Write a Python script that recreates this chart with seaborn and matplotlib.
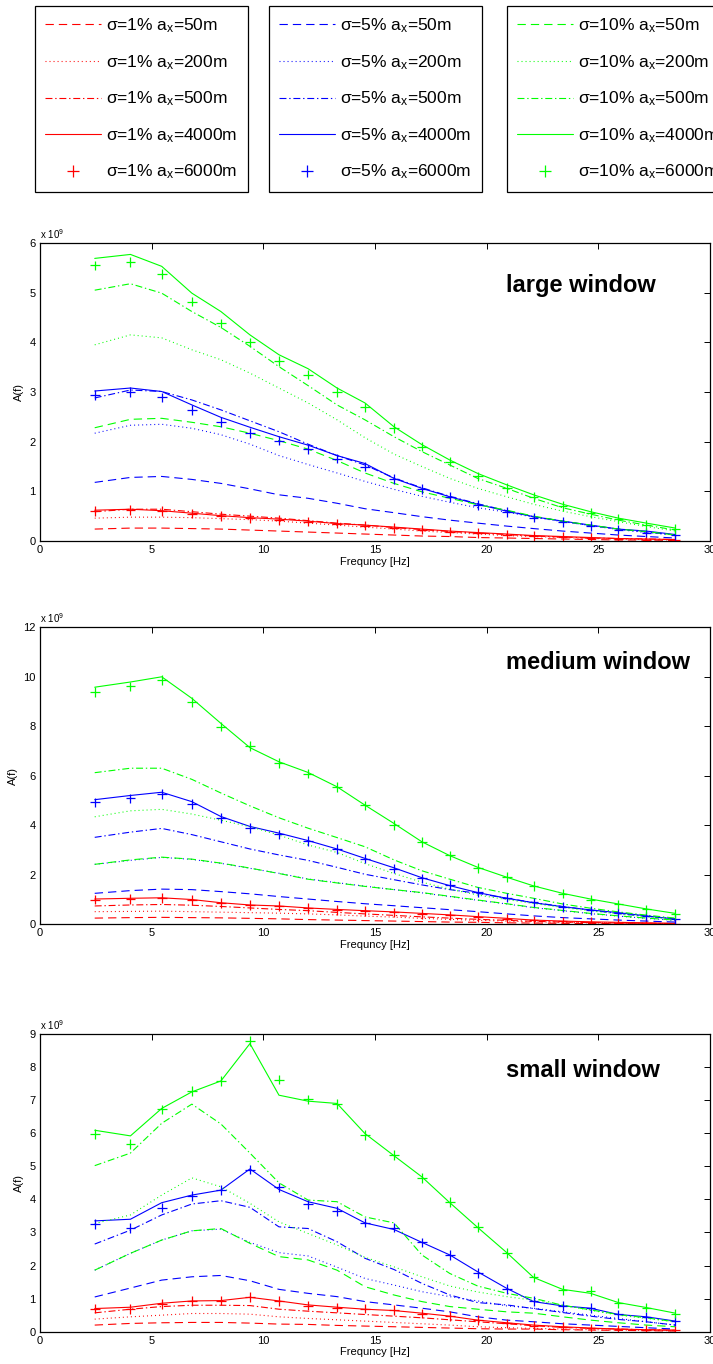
import matplotlib
matplotlib.use("Agg")
import matplotlib.pyplot as plt
import seaborn as sns
import pandas as pd
from matplotlib.lines import Line2D

# ---------------- data (amplitudes in units of 1e9) ----------------
freq = [2.45, 4.05, 5.45, 6.8, 8.1, 9.4, 10.7, 12.0, 13.3, 14.55, 15.85,
        17.1, 18.35, 19.6, 20.9, 22.1, 23.4, 24.65, 25.9, 27.15, 28.45]

sigmas = ["1%", "5%", "10%"]
corr_lengths = [50, 200, 500, 4000, 6000]
windows = ["large window", "medium window", "small window"]

# large window
large_s1_a50 = [0.24, 0.26, 0.26, 0.25, 0.24, 0.22, 0.20, 0.18, 0.16, 0.14, 0.12, 0.10, 0.09, 0.07, 0.06, 0.05, 0.04, 0.03, 0.02, 0.02, 0.01]
large_s1_a200 = [0.46, 0.48, 0.48, 0.47, 0.45, 0.43, 0.40, 0.36, 0.32, 0.28, 0.24, 0.20, 0.17, 0.14, 0.11, 0.09, 0.07, 0.05, 0.04, 0.03, 0.02]
large_s1_a500 = [0.59, 0.64, 0.64, 0.59, 0.54, 0.50, 0.46, 0.41, 0.36, 0.32, 0.27, 0.23, 0.19, 0.16, 0.13, 0.10, 0.08, 0.06, 0.05, 0.04, 0.03]
large_s1_a4000 = [0.62, 0.64, 0.61, 0.56, 0.51, 0.47, 0.44, 0.40, 0.35, 0.32, 0.28, 0.24, 0.20, 0.17, 0.14, 0.11, 0.09, 0.07, 0.05, 0.04, 0.03]
large_s1_a6000 = [0.61, 0.63, 0.61, 0.55, 0.50, 0.46, 0.42, 0.39, 0.35, 0.31, 0.26, 0.23, 0.19, 0.16, 0.13, 0.10, 0.08, 0.06, 0.05, 0.03, 0.02]
large_s5_a50 = [1.18, 1.28, 1.30, 1.24, 1.16, 1.05, 0.93, 0.86, 0.76, 0.65, 0.57, 0.49, 0.42, 0.36, 0.30, 0.25, 0.20, 0.16, 0.12, 0.09, 0.06]
large_s5_a200 = [2.17, 2.33, 2.35, 2.27, 2.14, 1.95, 1.72, 1.54, 1.37, 1.20, 1.04, 0.90, 0.78, 0.67, 0.58, 0.48, 0.39, 0.31, 0.23, 0.17, 0.12]
large_s5_a500 = [2.88, 3.04, 3.01, 2.84, 2.64, 2.42, 2.20, 1.95, 1.72, 1.53, 1.27, 1.07, 0.90, 0.75, 0.61, 0.49, 0.40, 0.31, 0.24, 0.18, 0.12]
large_s5_a4000 = [3.02, 3.08, 3.01, 2.74, 2.49, 2.29, 2.10, 1.93, 1.72, 1.56, 1.26, 1.06, 0.89, 0.74, 0.60, 0.49, 0.40, 0.32, 0.24, 0.20, 0.13]
large_s5_a6000 = [2.94, 3.00, 2.89, 2.64, 2.39, 2.18, 2.02, 1.85, 1.66, 1.50, 1.25, 1.05, 0.88, 0.73, 0.59, 0.47, 0.38, 0.30, 0.23, 0.17, 0.12]
large_s10_a50 = [2.28, 2.45, 2.47, 2.39, 2.30, 2.17, 2.02, 1.85, 1.62, 1.37, 1.16, 0.99, 0.86, 0.73, 0.62, 0.50, 0.40, 0.32, 0.24, 0.19, 0.12]
large_s10_a200 = [3.95, 4.15, 4.09, 3.85, 3.65, 3.38, 3.08, 2.78, 2.44, 2.08, 1.75, 1.50, 1.26, 1.06, 0.89, 0.74, 0.60, 0.49, 0.39, 0.29, 0.20]
large_s10_a500 = [5.05, 5.18, 4.99, 4.62, 4.30, 3.92, 3.51, 3.13, 2.74, 2.44, 2.10, 1.80, 1.53, 1.26, 1.06, 0.86, 0.67, 0.54, 0.42, 0.32, 0.22]
large_s10_a4000 = [5.69, 5.77, 5.53, 4.99, 4.62, 4.15, 3.75, 3.47, 3.08, 2.78, 2.30, 1.94, 1.63, 1.36, 1.13, 0.93, 0.74, 0.59, 0.46, 0.36, 0.26]
large_s10_a6000 = [5.55, 5.62, 5.37, 4.82, 4.38, 4.00, 3.62, 3.35, 3.00, 2.69, 2.27, 1.90, 1.60, 1.30, 1.07, 0.89, 0.71, 0.56, 0.44, 0.32, 0.24]

# medium window
medium_s1_a50 = [0.25, 0.27, 0.28, 0.27, 0.26, 0.24, 0.22, 0.19, 0.17, 0.15, 0.13, 0.11, 0.09, 0.08, 0.06, 0.05, 0.04, 0.03, 0.03, 0.02, 0.02]
medium_s1_a200 = [0.51, 0.52, 0.53, 0.51, 0.49, 0.47, 0.45, 0.42, 0.38, 0.33, 0.29, 0.24, 0.20, 0.16, 0.13, 0.10, 0.08, 0.06, 0.05, 0.04, 0.03]
medium_s1_a500 = [0.74, 0.78, 0.80, 0.77, 0.72, 0.66, 0.60, 0.55, 0.48, 0.42, 0.36, 0.30, 0.25, 0.20, 0.16, 0.12, 0.09, 0.07, 0.05, 0.04, 0.03]
medium_s1_a4000 = [1.02, 1.05, 1.07, 1.00, 0.87, 0.78, 0.74, 0.66, 0.60, 0.55, 0.50, 0.44, 0.38, 0.31, 0.24, 0.17, 0.13, 0.10, 0.08, 0.06, 0.04]
medium_s1_a6000 = [1.00, 1.03, 1.06, 0.99, 0.86, 0.78, 0.73, 0.65, 0.58, 0.53, 0.48, 0.42, 0.36, 0.29, 0.23, 0.16, 0.12, 0.09, 0.07, 0.05, 0.03]
medium_s5_a50 = [1.25, 1.36, 1.42, 1.40, 1.32, 1.23, 1.12, 1.02, 0.92, 0.83, 0.75, 0.67, 0.59, 0.51, 0.42, 0.34, 0.27, 0.22, 0.17, 0.13, 0.09]
medium_s5_a200 = [2.42, 2.58, 2.70, 2.62, 2.46, 2.26, 2.06, 1.83, 1.68, 1.54, 1.40, 1.27, 1.12, 0.97, 0.82, 0.67, 0.55, 0.43, 0.33, 0.24, 0.16]
medium_s5_a500 = [3.51, 3.72, 3.87, 3.62, 3.33, 3.04, 2.80, 2.58, 2.30, 2.02, 1.80, 1.59, 1.40, 1.25, 1.05, 0.88, 0.72, 0.57, 0.43, 0.32, 0.22]
medium_s5_a4000 = [5.03, 5.20, 5.33, 4.95, 4.35, 3.95, 3.68, 3.38, 3.04, 2.66, 2.28, 1.88, 1.56, 1.28, 1.05, 0.87, 0.71, 0.58, 0.47, 0.34, 0.21]
medium_s5_a6000 = [4.92, 5.08, 5.25, 4.85, 4.28, 3.88, 3.63, 3.35, 3.04, 2.65, 2.25, 1.85, 1.60, 1.30, 1.08, 0.88, 0.70, 0.56, 0.45, 0.32, 0.20]
medium_s10_a50 = [2.42, 2.60, 2.71, 2.63, 2.47, 2.27, 2.05, 1.82, 1.67, 1.53, 1.40, 1.28, 1.13, 0.98, 0.83, 0.68, 0.56, 0.44, 0.34, 0.25, 0.17]
medium_s10_a200 = [4.34, 4.58, 4.64, 4.45, 4.20, 3.94, 3.60, 3.20, 2.90, 2.45, 2.05, 1.70, 1.42, 1.18, 1.00, 0.84, 0.68, 0.54, 0.42, 0.30, 0.20]
medium_s10_a500 = [6.12, 6.30, 6.30, 5.85, 5.30, 4.78, 4.30, 3.88, 3.50, 3.13, 2.60, 2.16, 1.82, 1.49, 1.25, 1.05, 0.82, 0.65, 0.50, 0.37, 0.25]
medium_s10_a4000 = [9.57, 9.78, 9.99, 9.12, 8.11, 7.13, 6.56, 6.13, 5.55, 4.81, 4.07, 3.33, 2.77, 2.30, 1.90, 1.55, 1.25, 1.02, 0.82, 0.62, 0.44]
medium_s10_a6000 = [9.38, 9.60, 9.87, 8.98, 7.98, 7.20, 6.52, 6.08, 5.55, 4.80, 4.02, 3.32, 2.78, 2.28, 1.90, 1.55, 1.24, 1.00, 0.80, 0.60, 0.42]

# small window
small_s1_a50 = [0.20, 0.25, 0.27, 0.28, 0.28, 0.26, 0.23, 0.22, 0.19, 0.17, 0.15, 0.13, 0.11, 0.09, 0.08, 0.08, 0.06, 0.05, 0.04, 0.03, 0.02]
small_s1_a200 = [0.38, 0.45, 0.50, 0.55, 0.55, 0.53, 0.45, 0.40, 0.36, 0.32, 0.28, 0.24, 0.20, 0.15, 0.12, 0.10, 0.08, 0.06, 0.05, 0.04, 0.03]
small_s1_a500 = [0.57, 0.68, 0.76, 0.80, 0.80, 0.79, 0.68, 0.62, 0.57, 0.52, 0.47, 0.42, 0.36, 0.30, 0.24, 0.18, 0.13, 0.10, 0.08, 0.06, 0.04]
small_s1_a4000 = [0.70, 0.74, 0.86, 0.93, 0.94, 1.04, 0.93, 0.81, 0.74, 0.68, 0.64, 0.56, 0.47, 0.35, 0.27, 0.20, 0.15, 0.11, 0.08, 0.06, 0.05]
small_s1_a6000 = [0.70, 0.68, 0.84, 0.92, 0.94, 1.04, 0.93, 0.79, 0.73, 0.70, 0.65, 0.55, 0.47, 0.36, 0.25, 0.18, 0.14, 0.10, 0.07, 0.05, 0.04]
small_s5_a50 = [1.05, 1.32, 1.56, 1.66, 1.70, 1.54, 1.28, 1.16, 1.06, 0.91, 0.81, 0.71, 0.60, 0.45, 0.35, 0.30, 0.24, 0.20, 0.16, 0.12, 0.08]
small_s5_a200 = [1.86, 2.37, 2.77, 3.05, 3.10, 2.70, 2.39, 2.29, 1.95, 1.61, 1.41, 1.21, 1.06, 0.93, 0.78, 0.71, 0.60, 0.50, 0.40, 0.30, 0.20]
small_s5_a500 = [2.65, 3.07, 3.53, 3.86, 3.96, 3.76, 3.17, 3.12, 2.72, 2.22, 1.88, 1.46, 1.11, 0.88, 0.81, 0.70, 0.58, 0.47, 0.37, 0.30, 0.20]
small_s5_a4000 = [3.35, 3.40, 3.90, 4.13, 4.28, 4.92, 4.30, 3.93, 3.73, 3.29, 3.09, 2.70, 2.32, 1.81, 1.31, 0.91, 0.78, 0.71, 0.52, 0.45, 0.32]
small_s5_a6000 = [3.25, 3.14, 3.75, 4.10, 4.28, 4.90, 4.36, 3.85, 3.65, 3.30, 3.15, 2.70, 2.32, 1.78, 1.30, 0.92, 0.78, 0.72, 0.52, 0.45, 0.33]
small_s10_a50 = [1.86, 2.37, 2.77, 3.05, 3.12, 2.67, 2.27, 2.17, 1.86, 1.36, 1.11, 0.91, 0.76, 0.68, 0.60, 0.56, 0.45, 0.35, 0.27, 0.20, 0.15]
small_s10_a200 = [3.27, 3.53, 4.13, 4.65, 4.38, 3.88, 3.32, 2.97, 2.62, 2.25, 1.96, 1.66, 1.38, 1.20, 1.06, 0.95, 0.80, 0.65, 0.50, 0.40, 0.30]
small_s10_a500 = [5.02, 5.40, 6.30, 6.88, 6.28, 5.40, 4.50, 3.98, 3.93, 3.47, 3.29, 2.32, 1.76, 1.38, 1.16, 1.01, 0.80, 0.66, 0.52, 0.42, 0.30]
small_s10_a4000 = [6.09, 5.92, 6.75, 7.25, 7.58, 8.71, 7.15, 6.97, 6.90, 5.99, 5.32, 4.68, 3.90, 3.15, 2.39, 1.64, 1.28, 1.16, 0.88, 0.73, 0.56]
small_s10_a6000 = [5.97, 5.68, 6.72, 7.27, 7.58, 8.78, 7.62, 7.02, 6.88, 5.95, 5.34, 4.65, 3.92, 3.17, 2.38, 1.64, 1.26, 1.23, 0.87, 0.73, 0.55]

y_limits = [6, 12, 9]
y_ticks = [list(range(0, 7)), list(range(0, 13, 2)), list(range(0, 10))]
x_ticks = [0, 5, 10, 15, 20, 25, 30]

# ---------------- assemble long table ----------------
g = globals()
rows = []
for w, wkey in zip(windows, ["large", "medium", "small"]):
    for s, skey in zip(sigmas, ["s1", "s5", "s10"]):
        for a in corr_lengths:
            vals = g[f"{wkey}_{skey}_a{a}"]
            for f, v in zip(freq, vals):
                rows.append({"window": w, "sigma": s, "ax": a, "freq": f, "A": v})
df = pd.DataFrame(rows)

# ---------------- style ----------------
sns.set_style("white")
plt.rcParams["font.family"] = ["Liberation Sans", "DejaVu Sans"]
plt.rcParams["mathtext.fontset"] = "custom"
plt.rcParams["mathtext.rm"] = "Liberation Sans"
plt.rcParams["mathtext.it"] = "Liberation Sans"
plt.rcParams["mathtext.bf"] = "Liberation Sans:bold"
plt.rcParams["lines.scale_dashes"] = False
plt.rcParams["text.color"] = "black"
plt.rcParams["axes.labelcolor"] = "black"
plt.rcParams["xtick.color"] = "black"
plt.rcParams["ytick.color"] = "black"

palette = {"1%": "#ff0000", "5%": "#0000ff", "10%": "#00ff00"}
dash_styles = {50: (0, (6.0, 3.6)), 200: (0, (0.7, 2.2)),
               500: (0, (5.0, 2.0, 1.0, 2.0)), 4000: "-"}
LW = 0.8

fig = plt.figure(figsize=(7.13, 13.64), dpi=100)
W, H = 713.0, 1364.0
axes_px = [(243, 541), (627, 924.3), (1034, 1331.7)]
title_y = [0.859, 0.88, 0.879]

for i, w in enumerate(windows):
    top, bot = axes_px[i]
    ax = fig.add_axes([40 / W, 1 - bot / H, 670 / W, (bot - top) / H])
    sub = df[df["window"] == w]
    for s in sigmas:
        for a in [50, 200, 500, 4000]:
            d = sub[(sub["sigma"] == s) & (sub["ax"] == a)]
            sns.lineplot(data=d, x="freq", y="A", color=palette[s],
                         linestyle=dash_styles[a], linewidth=LW,
                         estimator=None, sort=False, legend=False, ax=ax)
    pts = sub[sub["ax"] == 6000]
    sns.scatterplot(data=pts, x="freq", y="A", hue="sigma", hue_order=sigmas,
                    palette=palette, marker="+", s=48, linewidth=0.9,
                    legend=False, ax=ax, zorder=3)
    ax.set_xlim(0, 30)
    ax.set_ylim(0, y_limits[i])
    ax.set_xticks(x_ticks)
    ax.set_yticks(y_ticks[i])
    ax.tick_params(direction="in", top=True, right=True, length=4, width=0.7,
                   labelsize=8, pad=3, colors="black")
    for sp in ax.spines.values():
        sp.set_linewidth(0.9)
        sp.set_color("black")
    ax.set_xlabel("Frequncy [Hz]", fontsize=8, labelpad=1)
    ax.set_ylabel("A(f)", fontsize=8, labelpad=4)
    ax.text(0.0, 1.008, r"x 10$^{9}$", transform=ax.transAxes, fontsize=7,
            ha="left", va="bottom", color="black")
    ax.text(0.6955, title_y[i], w, transform=ax.transAxes, fontsize=17,
            fontweight="bold", ha="left", va="center", color="black")

# ---------------- legends ----------------
legend_left_px = [35, 269, 507]
for s, lx in zip(sigmas, legend_left_px):
    handles, labels = [], []
    for a in corr_lengths:
        c = palette[s]
        if a == 6000:
            h = Line2D([], [], color=c, linestyle="none", marker="+",
                       markersize=8, markeredgewidth=0.9)
        else:
            h = Line2D([], [], color=c, linestyle=dash_styles[a], linewidth=LW)
        handles.append(h)
        labels.append(f"σ={s} a$_x$={a}m")
    leg = fig.legend(handles, labels, loc="upper left",
                     bbox_to_anchor=(lx / W, 1 - 6 / H),
                     bbox_transform=fig.transFigure, borderaxespad=0,
                     frameon=True, fancybox=False, edgecolor="black",
                     framealpha=1, handlelength=3.2, handletextpad=0.3,
                     labelspacing=1.03, borderpad=0.6, fontsize=12.5)
    leg.get_frame().set_linewidth(0.9)
    for t in leg.get_texts():
        t.set_color("black")

fig.savefig("out.png", dpi=100)
